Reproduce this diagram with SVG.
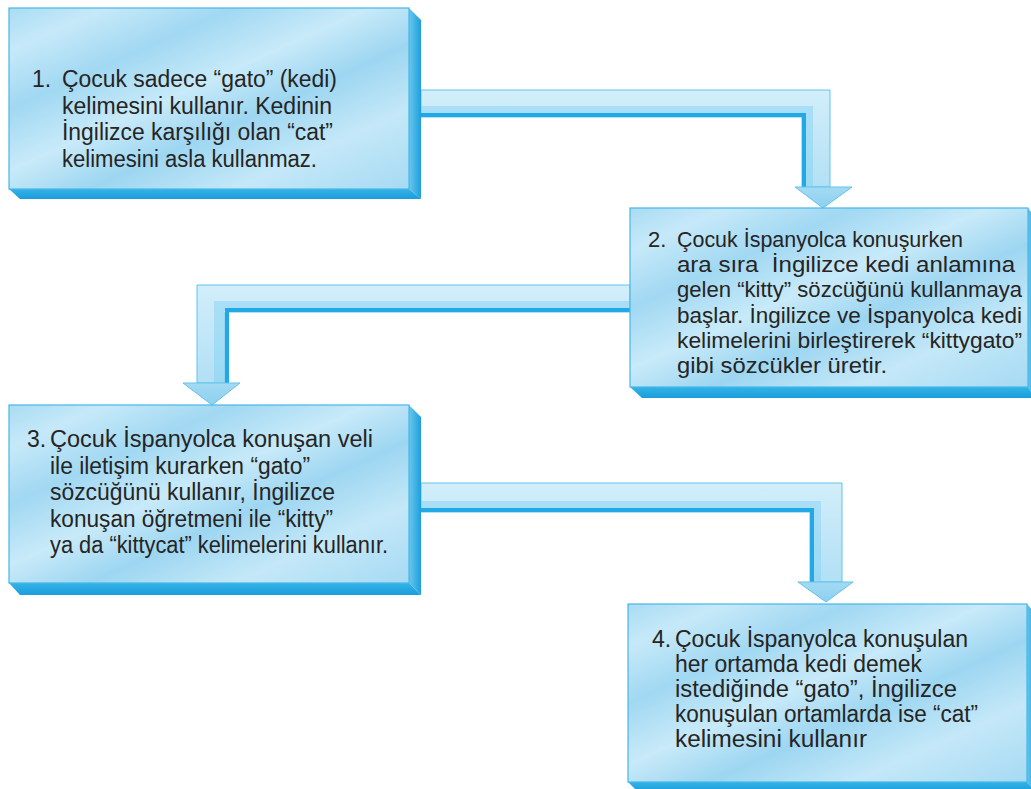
<svg xmlns="http://www.w3.org/2000/svg" width="1031" height="789" viewBox="0 0 1031 789">
<defs>
<linearGradient id="face" x1="0" y1="0" x2="1" y2="1">
<stop offset="0" stop-color="#a9dcf3"/>
<stop offset="0.12" stop-color="#c6e9f9"/>
<stop offset="0.28" stop-color="#a1d8f2"/>
<stop offset="0.45" stop-color="#c8eaf9"/>
<stop offset="0.6" stop-color="#9dd6f1"/>
<stop offset="0.78" stop-color="#c4e8f8"/>
<stop offset="1" stop-color="#a6daf3"/>
</linearGradient>
<linearGradient id="side" x1="0" y1="0" x2="1" y2="0">
<stop offset="0" stop-color="#6ac6ec"/>
<stop offset="1" stop-color="#1c9fdc"/>
</linearGradient>
<linearGradient id="bottom" x1="0" y1="0" x2="0" y2="1">
<stop offset="0" stop-color="#35b3e7"/>
<stop offset="1" stop-color="#1a9ddb"/>
</linearGradient>
<linearGradient id="arrowH" x1="0" y1="0" x2="0" y2="1">
<stop offset="0" stop-color="#d2eefa"/>
<stop offset="1" stop-color="#b2e0f5"/>
</linearGradient>
<linearGradient id="head" x1="0" y1="0" x2="0" y2="1">
<stop offset="0" stop-color="#a3daf3"/>
<stop offset="1" stop-color="#8dd0f0"/>
</linearGradient>
<style>
.face{fill:url(#face);stroke:#45b8e8;stroke-width:1.2}
.side{fill:url(#side)}
.bot{fill:url(#bottom)}
.arr{fill:url(#arrowH);stroke:#62c3ec;stroke-width:1}
.head{fill:url(#head);stroke:#62c3ec;stroke-width:1}
.inner{fill:none;stroke:#22a8e4;stroke-width:4;stroke-linejoin:miter}
.glow{fill:none;stroke:#7fd0f1;stroke-width:10;stroke-opacity:0.45}
text{font-family:"Liberation Sans",Arial,sans-serif;font-size:23px;fill:#262424}
.sm{font-size:22px}
.pre{white-space:pre}
</style>
</defs>

<g id="connectors">
<g id="arrow1">
<polygon class="arr" points="421,90 830,90 830,187 802,187 802,117 421,117"/>
<polyline class="glow" points="421,111 808,111 808,187"/>
<polyline class="inner" points="421,115 804,115 804,187"/>
<polygon class="head" points="795,187 852,187 823,208"/>
</g>
<g id="arrow2">
<polygon class="arr" points="630,285 197,285 197,383 225,383 225,312 630,312"/>
<polyline class="glow" points="630,306 219,306 219,383"/>
<polyline class="inner" points="630,310 227,310 227,383"/>
<polygon class="head" points="183,383 240,383 212,405"/>
</g>
<g id="arrow3">
<polygon class="arr" points="421,483 842,483 842,582 810,582 810,512 421,512"/>
<polyline class="glow" points="421,506 816,506 816,582"/>
<polyline class="inner" points="421,510 812,510 812,582"/>
<polygon class="head" points="798,582 853,582 826,602"/>
</g>
</g>

<g id="node1">
<polygon class="side" points="409,8 421,20 421,199 409,189"/>
<polygon class="bot" points="9,189 409,189 421,199 20,199"/>
<rect class="face" x="9" y="8" width="400" height="181"/>
<text x="32" y="87">1.</text>
<text x="62" y="87" textLength="275" lengthAdjust="spacingAndGlyphs">Çocuk sadece “gato” (kedi)</text>
<text x="62" y="113.5" textLength="270" lengthAdjust="spacingAndGlyphs">kelimesini kullanır. Kedinin</text>
<text x="62" y="140" textLength="271" lengthAdjust="spacingAndGlyphs">İngilizce karşılığı olan “cat”</text>
<text x="62" y="166.5" textLength="255" lengthAdjust="spacingAndGlyphs">kelimesini asla kullanmaz.</text>
</g>

<g id="node2">
<polygon class="side" points="1028,208 1036,218 1036,398 1028,387"/>
<polygon class="bot" points="630,387 1028,387 1036,398 642,398"/>
<rect class="face" x="630" y="208" width="398" height="179"/>
<text class="sm" x="648" y="247">2.</text>
<text class="sm" x="677" y="247" textLength="286" lengthAdjust="spacingAndGlyphs">Çocuk İspanyolca konuşurken</text>
<text class="sm pre" x="677" y="272.2" textLength="338" lengthAdjust="spacingAndGlyphs">ara sıra  İngilizce kedi anlamına</text>
<text class="sm" x="677" y="297.4" textLength="345" lengthAdjust="spacingAndGlyphs">gelen “kitty” sözcüğünü kullanmaya</text>
<text class="sm" x="677" y="322.6" textLength="345" lengthAdjust="spacingAndGlyphs">başlar. İngilizce ve İspanyolca kedi</text>
<text class="sm" x="677" y="347.8" textLength="345" lengthAdjust="spacingAndGlyphs">kelimelerini birleştirerek “kittygato”</text>
<text class="sm" x="677" y="373" textLength="210" lengthAdjust="spacingAndGlyphs">gibi sözcükler üretir.</text>
</g>

<g id="node3">
<polygon class="side" points="409,405 421,417 421,595 409,583"/>
<polygon class="bot" points="9,583 409,583 421,595 20,595"/>
<rect class="face" x="9" y="405" width="400" height="178"/>
<text x="27" y="447">3.</text>
<text x="50" y="447" textLength="323" lengthAdjust="spacingAndGlyphs">Çocuk İspanyolca konuşan veli</text>
<text x="50" y="473.5" textLength="260" lengthAdjust="spacingAndGlyphs">ile iletişim kurarken “gato”</text>
<text x="50" y="500" textLength="285" lengthAdjust="spacingAndGlyphs">sözcüğünü kullanır, İngilizce</text>
<text x="50" y="526.5" textLength="283" lengthAdjust="spacingAndGlyphs">konuşan öğretmeni ile “kitty”</text>
<text x="50" y="553" textLength="338" lengthAdjust="spacingAndGlyphs">ya da “kittycat” kelimelerini kullanır.</text>
</g>

<g id="node4">
<polygon class="side" points="1027,604 1036,614 1036,792 1027,782"/>
<polygon class="bot" points="628,782 1027,782 1036,792 638,792"/>
<rect class="face" x="628" y="604" width="399" height="178"/>
<text x="652" y="647">4.</text>
<text x="675" y="647" textLength="293" lengthAdjust="spacingAndGlyphs">Çocuk İspanyolca konuşulan</text>
<text x="675" y="672" textLength="247" lengthAdjust="spacingAndGlyphs">her ortamda kedi demek</text>
<text x="675" y="697" textLength="282" lengthAdjust="spacingAndGlyphs">istediğinde “gato”, İngilizce</text>
<text x="675" y="722" textLength="303" lengthAdjust="spacingAndGlyphs">konuşulan ortamlarda ise “cat”</text>
<text x="675" y="747" textLength="192" lengthAdjust="spacingAndGlyphs">kelimesini kullanır</text>
</g>
</svg>
